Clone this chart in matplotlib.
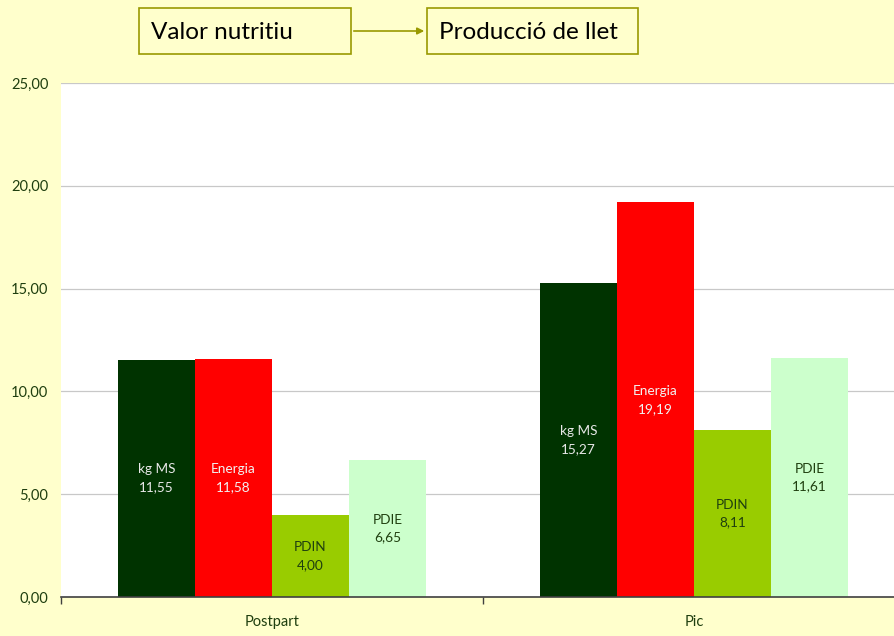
import matplotlib
matplotlib.use("Agg")
import matplotlib.pyplot as plt
import numpy as np
from matplotlib.patches import FancyArrowPatch

plt.rcParams['font.family'] = ['Lato', 'DejaVu Sans']

categories = ["Postpart", "Pic"]
series_names = ["kg MS", "Energia", "PDIN", "PDIE"]
values = {
    "kg MS": [11.55, 15.27],
    "Energia": [11.58, 19.19],
    "PDIN": [4.00, 8.11],
    "PDIE": [6.65, 11.61],
}
value_labels = {
    "kg MS": ["11,55", "15,27"],
    "Energia": ["11,58", "19,19"],
    "PDIN": ["4,00", "8,11"],
    "PDIE": ["6,65", "11,61"],
}
yticks = [0, 5, 10, 15, 20, 25]
ytick_labels = ["0,00", "5,00", "10,00", "15,00", "20,00", "25,00"]
box_texts = ["Valor nutritiu", "Producció de llet"]

colors = ["#003300", "#FF0000", "#99CC00", "#CCFFCC"]
text_colors = ["#E8E8E8", "#F2F2F2", "#1F3F0F", "#1F3F0F"]
bg = "#FFFFCC"

W, H = 895, 636
fig = plt.figure(figsize=(W / 100, H / 100), dpi=100, facecolor=bg)
# plot area: x 61..905 (extends beyond figure), y 83..597
ax = fig.add_axes([61 / W, 1 - 597 / H, 844 / W, (597 - 83) / H])
ax.set_facecolor("white")

x = np.arange(len(categories))
bw = 77 / 422
n = len(series_names)
for i, name in enumerate(series_names):
    offs = (i - (n - 1) / 2) * bw
    bars = ax.bar(x + offs, values[name], width=bw, color=colors[i], zorder=2)
    for j, b in enumerate(bars):
        h = b.get_height()
        ax.text(b.get_x() + bw / 2, h / 2, name + "\n" + value_labels[name][j],
                ha="center", va="center", fontsize=9.8, color=text_colors[i],
                linespacing=1.6, zorder=3)

ax.set_xlim(-0.5, 1.5)
ax.set_ylim(0, 25)
ax.set_yticks(yticks)
ax.set_yticklabels(ytick_labels, fontsize=10.5, color="#1F3F0F")
ax.yaxis.grid(True, color="#C8C8C8", linewidth=0.9, zorder=0)
ax.set_axisbelow(True)
ax.tick_params(axis="y", length=0, pad=9)
ax.set_xticks(x)
ax.set_xticklabels(categories, fontsize=10.5, color="#1F3F0F")
ax.tick_params(axis="x", length=0, pad=13)
# minor ticks at category boundaries
ax.set_xticks([-0.5, 0.5, 1.5], minor=True)
ax.tick_params(axis="x", which="minor", length=5, color="#404040", width=1)
for s in ["top", "right", "left"]:
    ax.spines[s].set_visible(False)
ax.spines["bottom"].set_color("#404040")
ax.spines["bottom"].set_linewidth(1.2)

# header boxes
def fx(px):
    return px / W

def fy(py):
    return 1 - py / H

box_color = "#999900"
boxes = [(139, 8, 212, 46), (427, 8, 211, 46)]
for (bx, by, bwid, bh), t in zip(boxes, box_texts):
    r = plt.Rectangle((fx(bx), fy(by + bh)), bwid / W, bh / H, transform=fig.transFigure,
                      facecolor=bg, edgecolor=box_color, linewidth=1.2)
    fig.patches.append(r)
    fig.text(fx(bx + 12), fy(by + bh / 2 + 1.5), t, ha="left", va="center", fontsize=17.5,
             color="black")

arr = FancyArrowPatch((fx(351), fy(31)), (fx(427), fy(31)), transform=fig.transFigure,
                      arrowstyle="-|>", mutation_scale=10, color=box_color, linewidth=1.2)
fig.patches.append(arr)

fig.savefig("out.png", dpi=100, facecolor=bg)
